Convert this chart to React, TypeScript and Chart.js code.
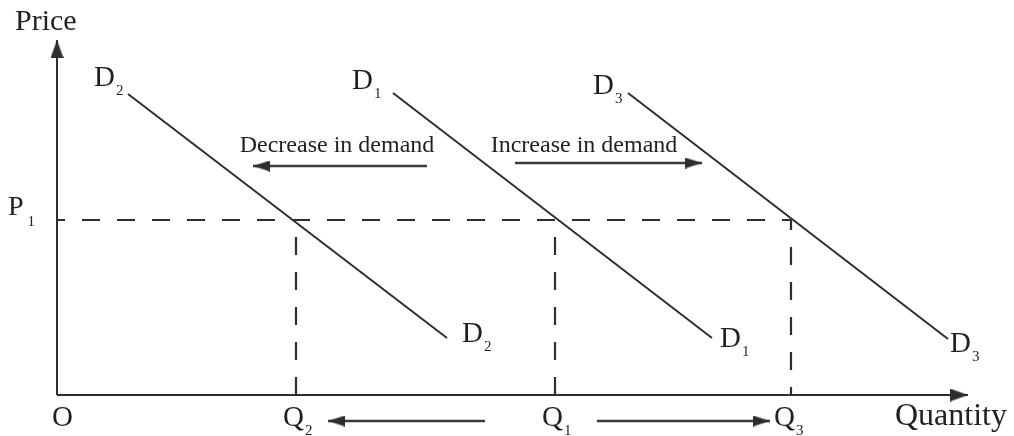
import React, { useEffect, useRef } from "react";
import { Chart, registerables } from "chart.js";

Chart.register(...registerables);

// ---- Data (arbitrary quantity / price units) ----
const axisQuantityMax = 91.1;
const axisPriceMax = 35.5;
const priceP1 = 17.5;
const quantityQ2 = 23.9;
const quantityQ1 = 49.8;
const quantityQ3 = 73.4;

const demandD2 = [
  { x: 7.1, y: 30.1 },
  { x: 39.0, y: 5.7 },
];
const demandD1 = [
  { x: 33.6, y: 30.2 },
  { x: 65.5, y: 5.7 },
];
const demandD3 = [
  { x: 57.1, y: 30.2 },
  { x: 89.1, y: 5.6 },
];

const decreaseArrow = [
  { x: 37.0, y: 22.9 },
  { x: 19.6, y: 22.9 },
];
const increaseArrow = [
  { x: 45.8, y: 23.2 },
  { x: 64.5, y: 23.2 },
];
const quantityFallArrow = [
  { x: 42.8, y: -2.6 },
  { x: 27.1, y: -2.6 },
];
const quantityRiseArrow = [
  { x: 54.0, y: -2.6 },
  { x: 71.3, y: -2.6 },
];

// ---- Text annotations ----
type Label = {
  text: string;
  sub?: string;
  x: number;
  y: number;
  size: number;
  align?: CanvasTextAlign;
  subDrop?: number;
  subGap?: number;
};

const labels: Label[] = [
  { text: "Price", x: -4.2, y: 36.5, size: 30 },
  { text: "D", sub: "2", x: 3.7, y: 30.9, size: 29 },
  { text: "D", sub: "1", x: 29.5, y: 30.6, size: 29 },
  { text: "D", sub: "3", x: 53.6, y: 30.1, size: 29 },
  { text: "D", sub: "2", x: 40.5, y: 5.3, size: 29 },
  { text: "D", sub: "1", x: 66.3, y: 4.8, size: 29 },
  { text: "D", sub: "3", x: 89.3, y: 4.3, size: 29 },
  { text: "P", sub: "1", x: -4.9, y: 18.0, size: 28, subDrop: 11, subGap: 4 },
  { text: "O", x: -0.5, y: -3.1, size: 29 },
  { text: "Q", sub: "2", x: 22.6, y: -3.1, size: 29 },
  { text: "Q", sub: "1", x: 48.5, y: -3.1, size: 29 },
  { text: "Q", sub: "3", x: 71.7, y: -3.1, size: 29 },
  { text: "Quantity", x: 83.8, y: -3.0, size: 32 },
  { text: "Decrease in demand", x: 28.0, y: 24.3, size: 24, align: "center" },
  { text: "Increase in demand", x: 52.7, y: 24.3, size: 24, align: "center" },
];

const INK = "#2e2e2e";
const TEXT = "#231f20";
const FONT = '"Liberation Serif", "Times New Roman", serif';

function makeHead(len: number, wid: number, color: string) {
  const c = document.createElement("canvas");
  c.width = len * 2;
  c.height = wid;
  const g = c.getContext("2d")!;
  g.fillStyle = color;
  g.beginPath();
  g.moveTo(0, 0);
  g.lineTo(len, wid / 2);
  g.lineTo(0, wid);
  g.closePath();
  g.fill();
  return c;
}

const textPlugin = {
  id: "diagramText",
  afterDatasetsDraw(chart: any) {
    const { ctx } = chart;
    const xs = chart.scales.x;
    const ys = chart.scales.y;
    ctx.save();
    ctx.fillStyle = TEXT;
    ctx.textBaseline = "alphabetic";
    for (const lb of labels) {
      const px = xs.getPixelForValue(lb.x);
      const py = ys.getPixelForValue(lb.y);
      ctx.font = `${lb.size}px ${FONT}`;
      ctx.textAlign = lb.align ?? "left";
      ctx.fillText(lb.text, px, py);
      if (lb.sub) {
        const w = ctx.measureText(lb.text).width;
        ctx.font = `15px ${FONT}`;
        ctx.textAlign = "left";
        ctx.fillText(lb.sub, px + w + (lb.subGap ?? 1), py + (lb.subDrop ?? 9));
      }
    }
    ctx.restore();
  },
};

export default function App() {
  const ref = useRef<HTMLCanvasElement | null>(null);

  useEffect(() => {
    if (!ref.current) return;
    const head = makeHead(17, 11, INK);
    const axisHead = makeHead(18, 13, INK);

    const seg = (data: { x: number; y: number }[], extra: any = {}) => ({
      data,
      showLine: true,
      borderColor: INK,
      borderWidth: 2,
      pointRadius: 0,
      fill: false,
      tension: 0,
      clip: false,
      ...extra,
    });

    const arrow = (data: { x: number; y: number }[], rot: number, h: HTMLCanvasElement, extra: any = {}) =>
      seg(data, {
        borderWidth: 2.5,
        borderColor: "#3a3a3a",
        pointRadius: (c: any) => (c.dataIndex === data.length - 1 ? 6 : 0),
        pointStyle: (c: any) => (c.dataIndex === data.length - 1 ? h : "circle"),
        pointRotation: rot,
        ...extra,
      });

    const chart = new Chart(ref.current, {
      type: "scatter",
      data: {
        datasets: [
          // axes
          arrow([{ x: 0, y: 0 }, { x: 0, y: axisPriceMax }], -90, axisHead, { borderWidth: 2, borderColor: INK }),
          arrow([{ x: 0, y: 0 }, { x: axisQuantityMax, y: 0 }], 0, axisHead, { borderWidth: 2, borderColor: INK }),
          // P1 dashed
          seg([{ x: 0, y: priceP1 }, { x: quantityQ3, y: priceP1 }], { borderDash: [18, 17], borderDashOffset: 10, borderWidth: 2.2 }),
          seg([{ x: quantityQ2, y: 0 }, { x: quantityQ2, y: priceP1 }], { borderDash: [18, 17], borderDashOffset: 0, borderWidth: 2.2 }),
          seg([{ x: quantityQ1, y: 0 }, { x: quantityQ1, y: priceP1 }], { borderDash: [18, 17], borderDashOffset: 0, borderWidth: 2.2 }),
          seg([{ x: quantityQ3, y: 0 }, { x: quantityQ3, y: priceP1 }], { borderDash: [18, 17], borderDashOffset: 10, borderWidth: 2.2 }),
          // demand curves
          seg(demandD2),
          seg(demandD1),
          seg(demandD3),
          // shift arrows
          arrow(decreaseArrow, 180, head),
          arrow(increaseArrow, 0, head),
          arrow(quantityFallArrow, 180, head),
          arrow(quantityRiseArrow, 0, head),
        ],
      },
      options: {
        responsive: false,
        animation: false,
        events: [],
        layout: { padding: 0, autoPadding: false },
        plugins: { legend: { display: false }, tooltip: { enabled: false } },
        scales: {
          x: { type: "linear", min: -5.7, max: 95.7, display: false },
          y: { type: "linear", min: -4.1, max: 39.5, display: false },
        },
      },
      plugins: [textPlugin],
    });
    return () => chart.destroy();
  }, []);

  return (
    <div style={{ position: "fixed", left: 0, top: 0, width: 1014, height: 436, background: "#fff" }}>
      <canvas ref={ref} width={1014} height={436} style={{ display: "block", width: 1014, height: 436 }} />
    </div>
  );
}
